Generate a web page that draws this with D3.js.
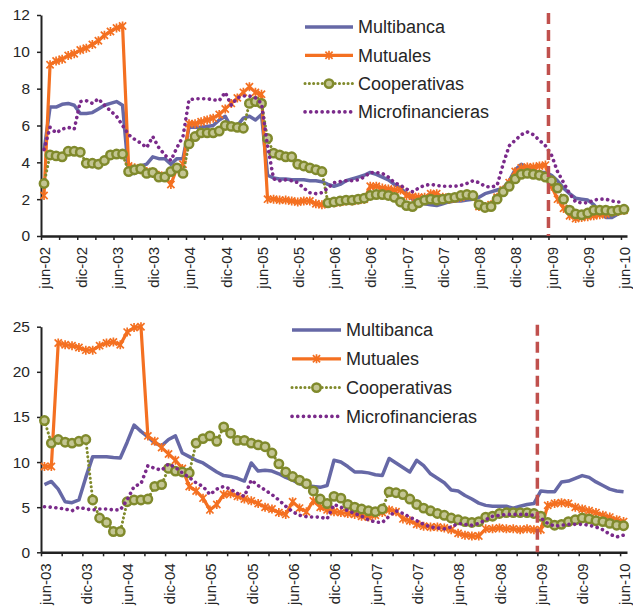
<!DOCTYPE html>
<html><head><meta charset="utf-8">
<script src="https://cdn.jsdelivr.net/npm/d3@7"></script>
<style>
body{margin:0;background:#fff}
svg{display:block}
text{font-family:"Liberation Sans",Arial,sans-serif;fill:#262626}
</style>
</head><body>
<svg id="c" width="633" height="612"></svg>
<script>
// ---------- DATA ----------
const seriesNames = ["Multibanca","Mutuales","Cooperativas","Microfinancieras"];
const monthAbbr = ["ene","feb","mar","abr","may","jun","jul","ago","sep","oct","nov","dic"];

const topTickLabels = ["jun-02","dic-02","jun-03","dic-03","jun-04","dic-04","jun-05","dic-05","jun-06","dic-06","jun-07","dic-07","jun-08","dic-08","jun-09","dic-09","jun-10"];
const bottomTickLabels = ["jun-03","dic-03","jun-04","dic-04","jun-05","dic-05","jun-06","dic-06","jun-07","dic-07","jun-08","dic-08","jun-09","dic-09","jun-10"];
const topYTicks = [0,2,4,6,8,10,12];
const bottomYTicks = [0,5,10,15,20,25];
const markerMonth = "jun-09";

// top panel: jun-02 .. jun-10 (97 months)
const topMultibanca = [4.6,7.0,7.0,7.15,7.2,7.1,6.65,6.65,6.7,6.9,7.1,7.2,7.3,7.1,
 3.4,3.4,3.8,3.9,4.3,4.2,4.2,3.9,4.2,4.2,
 5.9,5.9,5.9,5.95,6.0,6.3,6.5,5.9,6.0,6.4,6.5,6.3,6.6,
 3.3,3.15,3.1,3.1,3.05,3.05,3.05,3.0,3.0,2.95,
 2.8,2.7,2.8,3.0,3.1,3.2,3.3,3.45,3.35,3.2,
 3.05,2.8,2.6,2.3,2.0,1.8,1.75,1.7,1.65,1.75,
 1.85,1.9,1.9,1.95,2.0,2.1,2.3,2.4,2.5,2.6,
 3.0,3.6,3.9,3.7,3.5,3.45,3.45,3.3,3.0,2.6,
 2.3,2.05,2.0,1.95,1.7,1.3,1.0,1.0,1.2,1.5];
const topMutuales = [2.2,9.3,9.5,9.6,9.8,9.9,10.1,10.2,10.4,10.6,10.9,11.1,11.3,11.4,
 3.8,3.7,3.6,3.5,3.4,3.3,3.2,2.8,3.7,3.9,
 6.1,6.1,6.2,6.3,6.4,6.6,6.9,7.2,7.5,7.8,8.1,7.8,7.7,
 2.0,2.0,1.95,1.95,1.9,1.85,1.9,1.9,1.75,1.7,
 1.8,1.8,1.85,1.9,1.9,1.95,2.0,2.7,2.7,2.6,
 2.55,2.5,2.5,2.2,2.15,2.1,2.1,2.3,2.3,2.1,
 2.0,2.05,2.1,2.2,2.2,1.6,1.6,1.7,2.1,2.5,
 2.9,3.5,3.7,3.75,3.75,3.8,3.85,2.7,2.0,1.5,
 1.1,0.95,1.0,1.05,1.1,1.15,1.2,1.3,1.35,1.4];
const topCooperativas = [2.85,4.4,4.35,4.3,4.6,4.6,4.55,3.95,3.95,3.9,4.1,4.4,4.45,4.45,
 3.5,3.6,3.65,3.4,3.45,3.2,3.2,3.5,3.7,3.4,
 5.0,5.4,5.6,5.6,5.6,5.7,6.0,5.95,5.9,5.85,7.2,7.3,7.2,
 5.3,4.5,4.4,4.3,4.3,3.9,3.8,3.7,3.6,3.5,
 1.8,1.85,1.9,1.95,1.95,2.0,2.05,2.2,2.25,2.25,
 2.2,2.1,1.85,1.65,1.6,1.8,1.95,2.0,1.95,2.0,
 2.05,2.1,2.2,2.25,2.2,1.7,1.55,1.6,2.0,2.4,
 2.7,3.1,3.35,3.4,3.35,3.3,3.2,3.0,2.6,2.0,
 1.4,1.2,1.15,1.25,1.4,1.4,1.4,1.35,1.4,1.45];
const topMicrofinancieras = [4.7,5.9,5.6,5.8,5.9,5.8,7.3,7.35,7.2,7.45,7.1,6.8,6.5,6.0,
 5.5,5.25,5.05,4.8,5.4,4.8,4.4,4.1,4.8,5.4,
 7.4,7.45,7.45,7.45,7.4,7.35,7.8,7.1,7.5,7.6,7.6,7.5,7.2,
 4.9,3.1,3.0,3.05,3.0,2.9,2.6,2.35,2.3,2.35,
 2.6,2.9,2.95,3.0,3.0,3.05,3.2,3.45,3.45,3.4,
 3.2,2.9,2.75,2.55,2.4,2.6,2.75,2.8,2.75,2.7,
 2.7,2.7,2.75,2.85,3.0,2.9,2.7,2.65,2.75,3.9,
 4.9,5.2,5.5,5.65,5.5,5.2,4.9,4.4,3.5,2.9,
 2.3,1.85,1.8,1.8,1.95,2.0,2.0,1.9,1.85,1.85];

// bottom panel: jun-03 .. jun-10 (85 months)
const botMultibanca = [7.5,7.85,7.0,5.6,5.5,5.8,8.3,10.6,10.6,10.6,
 10.5,10.45,12.2,14.1,13.4,12.8,12.1,11.8,12.5,12.9,
 11.0,10.6,10.2,9.9,9.4,8.9,8.5,8.4,8.2,7.9,
 9.9,9.0,9.1,9.0,8.7,8.3,8.0,7.6,7.4,7.3,
 7.2,7.4,10.2,10.0,9.5,8.9,8.9,8.8,8.6,8.5,
 10.4,9.9,9.4,8.9,10.2,9.6,8.7,8.2,7.7,6.9,
 6.8,6.3,5.9,5.45,5.2,5.1,5.1,5.1,4.9,5.1,
 5.3,5.4,6.8,6.7,6.7,7.8,7.9,8.2,8.5,8.3,
 7.8,7.4,7.0,6.8,6.7];
const botMutuales = [9.5,9.5,23.2,23.0,22.9,22.7,22.4,22.4,22.9,23.2,
 23.3,23.0,24.4,24.9,25.0,12.9,12.3,11.6,10.9,10.2,
 9.3,7.3,6.8,6.0,4.7,5.3,6.4,6.5,6.2,5.9,
 5.7,5.4,5.0,4.8,4.4,4.2,5.6,4.9,4.5,5.7,
 5.0,4.7,4.5,4.4,4.3,4.2,4.0,3.9,4.1,4.4,
 4.7,4.5,3.7,3.5,3.1,2.9,2.8,2.8,2.7,2.5,
 2.1,1.9,1.8,1.8,2.6,2.6,2.7,2.6,2.6,2.5,
 2.6,2.5,2.5,5.2,5.4,5.5,5.4,5.0,4.8,4.6,
 4.4,4.1,3.9,3.6,3.4];
const botCooperativas = [14.6,12.1,12.5,12.2,12.1,12.3,12.5,5.8,3.8,3.3,
 2.3,2.3,5.6,5.8,5.8,5.9,7.3,7.5,9.3,9.0,
 8.9,8.8,12.1,12.6,12.9,12.3,13.9,13.2,12.4,12.4,
 12.1,11.9,11.7,11.0,9.8,8.9,8.4,8.0,7.6,6.8,
 5.9,5.4,6.2,6.0,5.3,5.0,4.8,4.6,4.5,4.8,
 6.7,6.6,6.4,5.9,5.3,4.9,4.6,4.3,4.1,3.8,
 3.6,3.4,3.3,3.4,3.9,4.0,4.3,4.4,4.4,4.4,
 4.4,4.3,4.0,3.3,3.0,3.1,3.4,3.6,3.8,3.7,
 3.5,3.4,3.2,3.0,2.95];
const botMicrofinancieras = [5.05,5.0,4.9,4.8,4.6,5.0,4.8,4.7,4.8,4.8,
 4.7,4.7,5.8,7.3,7.6,9.6,9.3,9.1,9.8,9.4,
 8.8,8.3,7.7,7.3,6.4,7.0,7.3,7.0,6.5,6.2,
 8.0,7.4,6.9,6.4,5.8,5.1,4.5,4.1,3.95,3.9,
 3.9,3.7,5.3,5.0,4.6,4.3,4.0,3.6,3.35,3.3,
 4.0,4.6,4.3,3.9,3.5,3.1,2.8,2.7,2.6,2.8,
 3.2,3.1,3.0,3.2,3.6,4.0,4.1,4.2,4.2,4.2,
 4.2,4.1,3.8,3.2,2.9,3.0,3.1,3.1,3.1,3.0,
 2.8,2.5,2.0,1.7,1.9];

// ---------- HELPERS ----------
function monthList(startLabel, endLabel){
  const [m0,y0] = startLabel.split("-");
  let mi = monthAbbr.indexOf(m0), yi = +y0; const out=[];
  while(true){
    const lab = monthAbbr[mi]+"-"+String(yi).padStart(2,"0");
    out.push(lab);
    if(lab===endLabel) break;
    mi++; if(mi>11){mi=0;yi++;}
  }
  return out;
}

const colors = {Multibanca:"#6668A6", Mutuales:"#F47021", Cooperativas:"#808A2C", Microfinancieras:"#7A2A8A"};
const circleFill = "#c3c592";
const svg = d3.select("#c");

function starPath(s){return `M${-s},${-s}L${s},${s}M${-s},${s}L${s},${-s}M0,${-s*1.25}L0,${s*1.25}`;}

function drawPanel(cfg){
  const months = monthList(cfg.tickLabels[0], cfg.tickLabels[cfg.tickLabels.length-1]);
  const n = months.length;
  const x = d3.scaleLinear().domain([0,n]).range([cfg.x0,cfg.x1]);
  const cx = i => x(i+0.5);
  const y = d3.scaleLinear().domain([0,cfg.yMax]).range([cfg.yBottom,cfg.yTop]);
  const g = svg.append("g");

  // axes
  const ya = g.append("g").attr("transform",`translate(${cfg.x0},0)`)
    .call(d3.axisLeft(y).tickValues(cfg.yTicks).tickSize(4).tickSizeOuter(0).tickPadding(7));
  ya.select(".domain").attr("stroke","#222").attr("stroke-width",2);
  ya.selectAll(".tick line").attr("stroke","#222").attr("stroke-width",1.5);
  ya.selectAll(".tick text").style("font-size","15.5px").attr("fill","#262626")
    .style("font-family","'Liberation Sans',Arial,sans-serif");

  const xa = g.append("g").attr("transform",`translate(0,${cfg.yBottom})`)
    .call(d3.axisBottom(x).tickValues(d3.range(0,n+1,3)).tickSize(4).tickSizeOuter(0).tickFormat(""));
  xa.select(".domain").attr("stroke","#222").attr("stroke-width",2.5);
  xa.selectAll(".tick line").attr("stroke","#222").attr("stroke-width",1.5);

  g.append("g").selectAll("text").data(cfg.tickLabels).join("text")
    .attr("transform",d=>`translate(${cx(months.indexOf(d))+1},${cfg.yBottom+11}) rotate(-90)`)
    .attr("text-anchor","end").attr("dy","0.35em")
    .style("font-size","15px").text(d=>d);

  const series = {Multibanca:cfg.data[0],Mutuales:cfg.data[1],Cooperativas:cfg.data[2],Microfinancieras:cfg.data[3]};
  const line = d3.line().x((d,i)=>cx(i)).y(d=>y(d));

  // Multibanca
  g.append("path").attr("d",line(series.Multibanca)).attr("fill","none")
    .attr("stroke",colors.Multibanca).attr("stroke-width",3.5).attr("stroke-linejoin","round");
  // Mutuales
  g.append("path").attr("d",line(series.Mutuales)).attr("fill","none")
    .attr("stroke",colors.Mutuales).attr("stroke-width",3.2).attr("stroke-linejoin","round");
  g.append("g").selectAll("path").data(series.Mutuales).join("path")
    .attr("transform",(d,i)=>`translate(${cx(i)},${y(d)})`).attr("d",starPath(3.6))
    .attr("stroke",colors.Mutuales).attr("stroke-width",1.7).attr("fill","none");
  // Cooperativas
  g.append("path").attr("d",line(series.Cooperativas)).attr("fill","none")
    .attr("stroke",colors.Cooperativas).attr("stroke-width",3).attr("stroke-linecap","round")
    .attr("stroke-dasharray","0.1 4.2");
  g.append("g").selectAll("circle").data(series.Cooperativas).join("circle")
    .attr("cx",(d,i)=>cx(i)).attr("cy",d=>y(d)).attr("r",4.2)
    .attr("fill",circleFill).attr("stroke",colors.Cooperativas).attr("stroke-width",2.5);
  // Microfinancieras
  g.append("path").attr("d",line(series.Microfinancieras)).attr("fill","none")
    .attr("stroke",colors.Microfinancieras).attr("stroke-width",3.6).attr("stroke-linecap","round")
    .attr("stroke-dasharray","0.1 5.6");

  // vertical dashed marker
  const mx = x(months.indexOf(markerMonth));
  g.append("line").attr("x1",mx).attr("x2",mx).attr("y1",cfg.yTop-2).attr("y2",cfg.yBottom)
    .attr("stroke","#C0504D").attr("stroke-width",3.5).attr("stroke-dasharray","11 6");

  // legend
  const lg = g.append("g");
  seriesNames.forEach((name,k)=>{
    const yy = cfg.legY + k*cfg.legDy;
    const x1 = cfg.legX, x2 = cfg.legX + cfg.legLen, xm = (x1+x2)/2;
    const l = lg.append("line").attr("x1",x1).attr("x2",x2).attr("y1",yy).attr("y2",yy)
      .attr("stroke",colors[name]);
    if(name==="Multibanca") l.attr("stroke-width",3.5);
    if(name==="Mutuales"){ l.attr("stroke-width",3.2);
      lg.append("path").attr("transform",`translate(${xm},${yy})`).attr("d",starPath(3.6))
        .attr("stroke",colors.Mutuales).attr("stroke-width",1.7).attr("fill","none"); }
    if(name==="Cooperativas"){ l.attr("stroke-width",3).attr("stroke-linecap","round").attr("stroke-dasharray","0.1 4.2");
      lg.append("circle").attr("cx",xm).attr("cy",yy).attr("r",4.2)
        .attr("fill",circleFill).attr("stroke",colors.Cooperativas).attr("stroke-width",2.5); }
    if(name==="Microfinancieras"){ l.attr("stroke-width",3.6).attr("stroke-linecap","round").attr("stroke-dasharray","0.1 5.6"); }
    lg.append("text").attr("x",x2+5).attr("y",yy).attr("dy","0.35em")
      .style("font-size","18px").text(name);
  });
}

drawPanel({tickLabels:topTickLabels, yTicks:topYTicks, yMax:12, x0:41, x1:627, yTop:15, yBottom:236,
  data:[topMultibanca,topMutuales,topCooperativas,topMicrofinancieras],
  legX:305, legLen:48, legY:27, legDy:28.3});
drawPanel({tickLabels:bottomTickLabels, yTicks:bottomYTicks, yMax:25, x0:41, x1:627, yTop:326.7, yBottom:552.3,
  data:[botMultibanca,botMutuales,botCooperativas,botMicrofinancieras],
  legX:292, legLen:49, legY:330, legDy:28.8});
</script>
</body></html>
